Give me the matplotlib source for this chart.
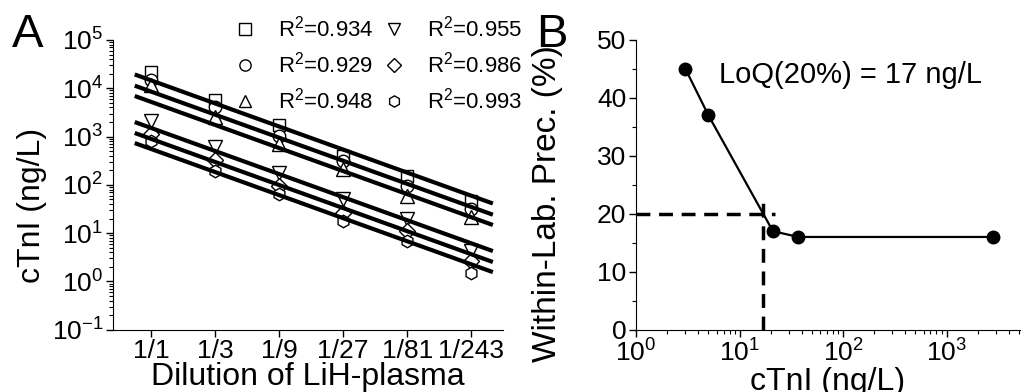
import numpy as np
import matplotlib
matplotlib.use('Agg')
import matplotlib.pyplot as plt
from matplotlib.ticker import LogLocator, MultipleLocator, NullFormatter

plt.rcParams['font.family'] = ['Liberation Sans', 'DejaVu Sans']
plt.rcParams['mathtext.fontset'] = 'custom'
plt.rcParams['mathtext.rm'] = 'Liberation Sans'
plt.rcParams['mathtext.it'] = 'Liberation Sans:italic'
plt.rcParams['mathtext.bf'] = 'Liberation Sans:bold'
plt.rcParams['axes.unicode_minus'] = False

# panel A: dilution series
dilutions = ['1/1', '1/3', '1/9', '1/27', '1/81', '1/243']
sq = [22000, 5600, 1700, 400, 155, 47]
circ = [15000, 4100, 1050, 310, 95, 32]
tri = [11500, 2500, 710, 215, 59, 22]
dtri = [2100, 600, 180, 51, 19.5, 4.2]
diam = [1150, 320, 95, 26, 11, 2.6]
hexa = [800, 195, 65, 18, 6.8, 1.5]
r2 = ['0.934', '0.929', '0.948', '0.955', '0.986', '0.993']
# fitted value at 1/1, lines fall by factor 3 per step
fit_undiluted = [14500, 8500, 5200, 1500, 890, 550]
dil_factor = 3

# panel B: precision profile
conc = [3, 5, 21, 37, 2800]
cv = [45, 37, 17, 16, 16]
loq = 17
cv_limit = 20

fig = plt.figure(figsize=(10.21, 3.92), dpi=100)
axA = fig.add_axes([0.1107, 0.159, 0.382, 0.739])
axB = fig.add_axes([0.623, 0.159, 0.376, 0.739])

# --- A ---
x = np.arange(1, len(dilutions) + 1)
series = [sq, circ, tri, dtri, diam, hexa]
markers = ['s', 'o', '^', 'v', 'D', 'h']
msizes = [9, 9, 10, 10, 8, 9]
handles = []
for vals, m, ms, r in zip(series, markers, msizes, r2):
    h, = axA.plot(x, vals, linestyle='none', marker=m, ms=ms, mfc='white',
                  mec='black', mew=1, zorder=2, label='R$^2$=' + r)
    handles.append(h)

# fitted lines
xf = np.array([x[0] - 0.23, x[-1] + 0.31])
for c0 in fit_undiluted:
    axA.plot(xf, c0 / dil_factor ** (xf - 1), color='black', lw=3, zorder=3)

axA.set_yscale('log')
axA.set_ylim(0.1, 1e5)
axA.set_xlim(0.4, 6.5)
axA.set_xticks(x)
axA.set_xticklabels(dilutions)
axA.yaxis.set_major_locator(LogLocator(base=10, numticks=10))
axA.yaxis.set_minor_locator(LogLocator(base=10, subs=np.arange(2, 10), numticks=20))
axA.yaxis.set_minor_formatter(NullFormatter())
axA.tick_params(axis='both', which='major', direction='out', length=5, width=1,
                labelsize=19, pad=2)
axA.tick_params(axis='y', which='minor', direction='out', length=3, width=0.8)
axA.spines['top'].set_visible(False)
axA.spines['right'].set_visible(False)
axA.set_xlabel('Dilution of LiH-plasma', fontsize=23, labelpad=-1)
axA.set_ylabel('cTnI (ng/L)', fontsize=23)
axA.yaxis.set_label_coords(-0.17, 0.43)

leg = axA.legend(handles=handles, ncol=2, loc='upper left', frameon=False,
                 bbox_to_anchor=(234 / 1021, 1 - 16 / 392),
                 bbox_transform=fig.transFigure, fontsize=16,
                 borderpad=0, borderaxespad=0, handlelength=1.0,
                 handletextpad=1.0, columnspacing=0.4, labelspacing=0.45,
                 markerscale=0.9)

# --- B ---
axB.plot(conc, cv, color='black', lw=1.6, marker='o', ms=9, zorder=3)
axB.hlines(cv_limit, 1, loq * 1.3, colors='black', linestyles=(0, (4, 2.5)),
           lw=2.5, zorder=2)
axB.vlines(loq, 0, cv_limit * 1.15, colors='black', linestyles=(0, (4, 2.5)),
           lw=2.5, zorder=2)
axB.set_xscale('log')
axB.set_xlim(1, 10 ** 3.71)
axB.set_ylim(0, 50)
axB.yaxis.set_major_locator(MultipleLocator(10))
axB.yaxis.set_minor_locator(MultipleLocator(5))
axB.xaxis.set_major_locator(LogLocator(base=10, numticks=10))
axB.xaxis.set_minor_locator(LogLocator(base=10, subs=np.arange(2, 10), numticks=20))
axB.xaxis.set_minor_formatter(NullFormatter())
axB.tick_params(axis='both', which='major', direction='out', length=5, width=1,
                labelsize=19, pad=2)
axB.tick_params(axis='both', which='minor', direction='out', length=3, width=0.8)
axB.spines['top'].set_visible(False)
axB.spines['right'].set_visible(False)
axB.set_xlabel('cTnI (ng/L)', fontsize=23, labelpad=0)
axB.set_ylabel('Within-Lab. Prec. (%)', fontsize=24)
axB.yaxis.set_label_coords(-0.19, 0.435)
axB.text(0.216, 0.879, 'LoQ(20%%) = %d ng/L' % loq, transform=axB.transAxes,
         fontsize=21, va='center', ha='left')

fig.text(12 / 1021, 1 - 13 / 392, 'A', fontsize=34, va='top', ha='left')
fig.text(536 / 1021, 1 - 13 / 392, 'B', fontsize=34, va='top', ha='left')

fig.savefig('out.png', dpi=100)
